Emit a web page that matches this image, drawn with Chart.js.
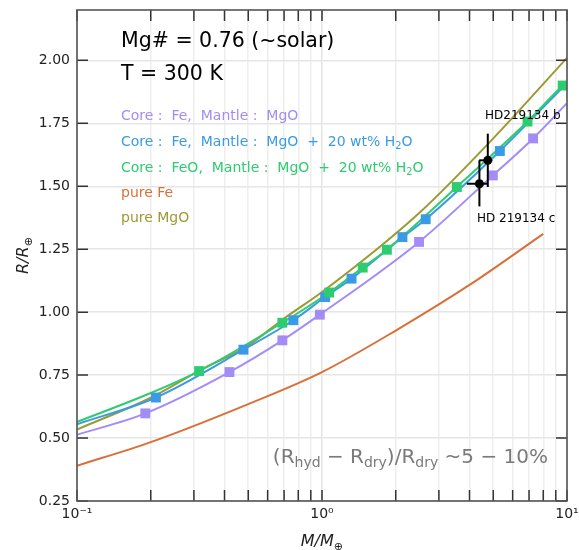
<!DOCTYPE html>
<html>
<head>
<meta charset="UTF-8">
<script src="https://cdn.jsdelivr.net/npm/chart.js"></script>
<style>
  body { margin: 0; background: #fff; }
  .wrap { width: 579px; height: 550px; }
</style>
</head>
<body>
<div class="wrap"><canvas id="mrChart"></canvas></div>
<script>
// mass (Earth masses) / radius (Earth radii)
const feMgoLineM = [0.1, 0.19, 0.419, 0.689, 0.98, 2.49, 4.98, 7.27, 10];
const feMgoLineR = [0.513, 0.598, 0.762, 0.888, 0.99, 1.279, 1.543, 1.69, 1.83];
const feMgoPtsM = [0.19, 0.419, 0.689, 0.98, 2.49, 4.98, 7.27];
const feMgoPtsR = [0.598, 0.762, 0.888, 0.99, 1.279, 1.543, 1.69];

const feWetLineM = [0.1, 0.21, 0.478, 0.764, 1.03, 1.32, 2.13, 2.65, 5.32, 10];
const feWetLineR = [0.555, 0.661, 0.851, 0.968, 1.06, 1.133, 1.298, 1.369, 1.64, 1.91];
const feWetPtsM = [0.21, 0.478, 0.764, 1.03, 1.32, 2.13, 2.65, 5.32];
const feWetPtsR = [0.661, 0.851, 0.968, 1.06, 1.133, 1.298, 1.369, 1.64];

const feoWetLineM = [0.1, 0.2, 0.315, 0.689, 1.07, 1.466, 1.84, 3.55, 6.9, 9.6, 10];
const feoWetLineR = [0.564, 0.679, 0.766, 0.958, 1.078, 1.177, 1.248, 1.497, 1.757, 1.90, 1.915];
const feoWetPtsM = [0.315, 0.689, 1.07, 1.466, 1.84, 3.55, 6.9, 9.6];
const feoWetPtsR = [0.766, 0.958, 1.078, 1.177, 1.248, 1.497, 1.757, 1.90];

const pureFeM = [0.1, 0.2, 0.5, 1, 2, 4, 8];
const pureFeR = [0.39, 0.484, 0.635, 0.762, 0.927, 1.108, 1.311];

const pureMgoM = [0.1, 0.2, 0.316, 0.5, 0.7, 1, 2.5, 5, 10];
const pureMgoR = [0.534, 0.66, 0.768, 0.868, 0.975, 1.08, 1.395, 1.69, 2.01];

// HD 219134 b and c with error bars
const planetNames = ['HD219134 b', 'HD 219134 c'];
const planetM = [4.75, 4.39];
const planetMlo = [4.38, 3.90];
const planetMhi = [4.95, 4.75];
const planetR = [1.603, 1.51];
const planetRlo = [1.497, 1.42];
const planetRhi = [1.709, 1.603];

const xMajorTicks = [0.1, 1, 10];
const xTickLabels = ['10\u207B\u00B9', '10\u2070', '10\u00B9'];
const yTicks = [0.25, 0.50, 0.75, 1.00, 1.25, 1.50, 1.75, 2.00];

const cPurple = '#a38cf6';
const cBlue = '#3a9be4';
const cGreen = '#2ecc71';
const cOrange = '#d9703a';
const cOlive = '#9d9a33';
const FONT = "'DejaVu Sans', sans-serif";

const pts = (xs, ys) => xs.map((x, i) => ({ x: x, y: ys[i] }));

function curve(xs, ys, color, order) {
    return {
        data: pts(xs, ys), showLine: true, borderColor: color, borderWidth: 2,
        pointRadius: 0, cubicInterpolationMode: 'monotone', order: order
    };
}

function squares(xs, ys, color, order) {
    return {
        data: pts(xs, ys), showLine: false, pointStyle: 'rect', pointRadius: 7,
        backgroundColor: color, borderWidth: 0, order: order
    };
}

const datasets = [
    curve(pureFeM, pureFeR, cOrange, 10),
    curve(pureMgoM, pureMgoR, cOlive, 9),
    curve(feMgoLineM, feMgoLineR, cPurple, 8),
    curve(feWetLineM, feWetLineR, cBlue, 7),
    curve(feoWetLineM, feoWetLineR, cGreen, 6),
    squares(feMgoPtsM, feMgoPtsR, cPurple, 5),
    squares(feWetPtsM, feWetPtsR, cBlue, 4),
    squares(feoWetPtsM, feoWetPtsR, cGreen, 3)
];

planetM.forEach((m, i) => {
    datasets.push({
        data: [{ x: planetMlo[i], y: planetR[i] }, { x: planetMhi[i], y: planetR[i] }],
        showLine: true, borderColor: '#000', borderWidth: 2, pointRadius: 0, order: 2
    });
    datasets.push({
        data: [{ x: m, y: planetRlo[i] }, { x: m, y: planetRhi[i] }],
        showLine: true, borderColor: '#000', borderWidth: 2, pointRadius: 0, order: 2
    });
});
datasets.push({
    data: pts(planetM, planetR), showLine: false, pointRadius: 4.5,
    backgroundColor: '#000', borderWidth: 0, order: 1
});

// draws "text" parts with optional subscript / italic
function richWidth(ctx, parts, size) {
    let w = 0;
    parts.forEach(p => {
        const s = p[1] === 'sub' ? size * 0.7 : size;
        ctx.font = (p[1] === 'it' ? 'italic ' : '') + s + 'px ' + FONT;
        w += ctx.measureText(p[0]).width;
    });
    return w;
}

function drawRich(ctx, parts, x, y, size, color) {
    ctx.fillStyle = color;
    ctx.textBaseline = 'alphabetic';
    ctx.textAlign = 'left';
    parts.forEach(p => {
        const sub = p[1] === 'sub';
        const s = sub ? size * 0.7 : size;
        ctx.font = (p[1] === 'it' ? 'italic ' : '') + s + 'px ' + FONT;
        ctx.fillText(p[0], x, sub ? y + size * 0.22 : y);
        x += ctx.measureText(p[0]).width;
    });
}

const frameTicks = {
    id: 'frameTicks',
    afterDatasetsDraw(chart) {
        const { ctx, chartArea: a, scales: { x, y } } = chart;
        ctx.save();
        ctx.strokeStyle = '#333';
        ctx.lineWidth = 1.5;
        ctx.beginPath();
        x.ticks.forEach(t => {
            const px = x.getPixelForValue(t.value);
            ctx.moveTo(px, a.bottom); ctx.lineTo(px, a.bottom - 11);
            ctx.moveTo(px, a.top); ctx.lineTo(px, a.top + 11);
        });
        y.ticks.forEach(t => {
            const py = y.getPixelForValue(t.value);
            ctx.moveTo(a.left, py); ctx.lineTo(a.left + 11, py);
            ctx.moveTo(a.right, py); ctx.lineTo(a.right - 11, py);
        });
        ctx.stroke();
        ctx.strokeStyle = '#555';
        ctx.lineWidth = 1.6;
        ctx.strokeRect(a.left, a.top, a.width, a.height);
        ctx.restore();
    }
};

const labels = {
    id: 'labels',
    afterDraw(chart) {
        const { ctx, chartArea: a } = chart;
        ctx.save();
        drawRich(ctx, [['Mg# = 0.76 (~solar)']], 121, 47, 20.5, '#000');
        drawRich(ctx, [['T = 300 K']], 121, 80, 20.5, '#000');

        drawRich(ctx, [['Core :  Fe,  Mantle :  MgO']], 121, 120, 14, cPurple);
        drawRich(ctx, [['Core :  Fe,  Mantle :  MgO  +  20 wt% H'], ['2', 'sub'], ['O']], 121, 146, 14, cBlue);
        drawRich(ctx, [['Core :  FeO,  Mantle :  MgO  +  20 wt% H'], ['2', 'sub'], ['O']], 121, 172, 14, cGreen);
        drawRich(ctx, [['pure Fe']], 121, 197, 14, cOrange);
        drawRich(ctx, [['pure MgO']], 121, 222, 14, cOlive);

        drawRich(ctx, [[planetNames[0]]], 485, 119, 12, '#000');
        drawRich(ctx, [[planetNames[1]]], 477, 222, 12, '#000');

        const note = [['(R'], ['hyd', 'sub'], [' \u2212 R'], ['dry', 'sub'], [')/R'], ['dry', 'sub'], [' ~5 \u2212 10%']];
        drawRich(ctx, note, 548 - richWidth(ctx, note, 20), 463, 20, '#7a7a7a');

        // axis titles
        const xt = [['M/M', 'it'], ['\u2295', 'sub']];
        drawRich(ctx, xt, (a.left + a.right) / 2 - richWidth(ctx, xt, 16) / 2, 546, 16, '#222');
        const yt = [['R/R', 'it'], ['\u2295', 'sub']];
        ctx.translate(28, (a.top + a.bottom) / 2);
        ctx.rotate(-Math.PI / 2);
        drawRich(ctx, yt, -richWidth(ctx, yt, 16) / 2, 0, 16, '#222');
        ctx.restore();
    }
};

new Chart(document.getElementById('mrChart'), {
    type: 'scatter',
    data: { datasets: datasets },
    options: {
        responsive: true,
        maintainAspectRatio: false,
        animation: false,
        layout: { padding: { top: 10, right: 12, left: 0, bottom: 0 } },
        plugins: { legend: { display: false }, tooltip: { enabled: false } },
        scales: {
            x: {
                type: 'logarithmic', min: 0.1, max: 10,
                afterFit: s => { s.height = 49; s.paddingLeft = 0; s.paddingRight = 0; },
                afterBuildTicks: s => {
                    const t = [];
                    for (let d = 0; d < xMajorTicks.length - 1; d++) {
                        for (let k = 1; k < 10; k++) t.push({ value: xMajorTicks[d] * k });
                    }
                    t.push({ value: xMajorTicks[xMajorTicks.length - 1] });
                    s.ticks = t;
                },
                ticks: {
                    autoSkip: false, maxRotation: 0, padding: 5, color: '#222',
                    font: { family: FONT, size: 14 },
                    callback: v => {
                        const i = xMajorTicks.findIndex(m => Math.abs(m - v) < 1e-9);
                        return i >= 0 ? xTickLabels[i] : '';
                    }
                },
                grid: {
                    drawTicks: false,
                    color: ctx => xMajorTicks.some(m => Math.abs(m - ctx.tick.value) < 1e-9) ? '#e4e4e4' : '#eeeeee',
                    lineWidth: 1.5
                },
                border: { display: false }
            },
            y: {
                min: 0.25, max: 2.2,
                afterFit: s => { s.width = 77; s.paddingTop = 0; s.paddingBottom = 0; },
                afterBuildTicks: s => { s.ticks = yTicks.map(v => ({ value: v })); },
                ticks: {
                    padding: 7, color: '#222',
                    font: { family: FONT, size: 14 },
                    callback: v => v.toFixed(2)
                },
                grid: { drawTicks: false, color: '#e6e6e6', lineWidth: 1.5 },
                border: { display: false }
            }
        }
    },
    plugins: [frameTicks, labels]
});
</script>
</body>
</html>
